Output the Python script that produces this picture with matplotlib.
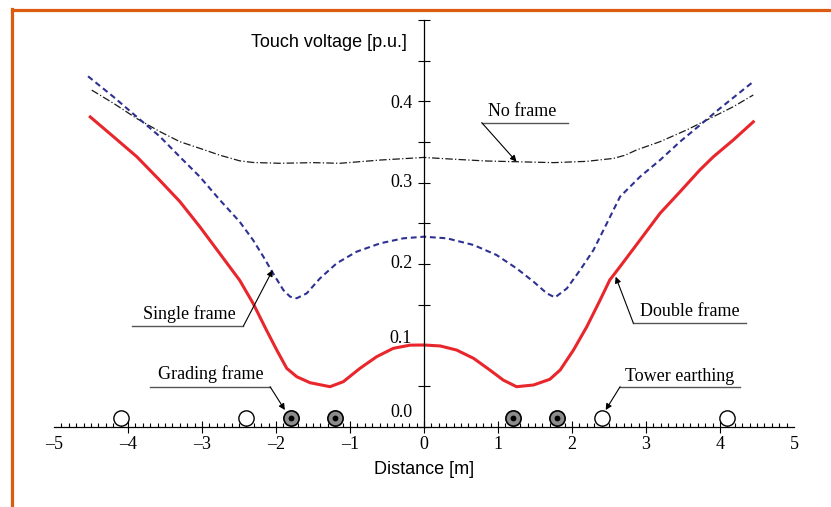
import numpy as np
import matplotlib
matplotlib.use("Agg")
from matplotlib import pyplot as plt
from matplotlib.lines import Line2D

# touch voltage profiles
x_double = [-4.51, -4.20, -3.88, -3.57, -3.30, -3.03, -2.76, -2.49, -2.31, -2.13, -1.99, -1.855,
            -1.72, -1.54, -1.27, -1.09, -0.865, -0.64, -0.415, -0.19, 0.0, 0.22, 0.44, 0.67, 0.89,
            1.07, 1.25, 1.48, 1.70, 1.84, 2.02, 2.20, 2.38, 2.51, 2.65, 2.92, 3.19, 3.46, 3.73,
            3.91, 4.18, 4.45]
v_double = [0.381, 0.357, 0.332, 0.303, 0.277, 0.246, 0.213, 0.180, 0.1518, 0.119, 0.0943, 0.0718,
            0.0615, 0.0541, 0.0492, 0.0554, 0.0718, 0.0861, 0.0964, 0.1003, 0.1005, 0.0993, 0.0943, 0.0841, 0.0697,
            0.0574, 0.0492, 0.0513, 0.0583, 0.0697, 0.0943, 0.123, 0.1558, 0.1804, 0.197, 0.2297, 0.2625, 0.289, 0.316,
            0.332, 0.3527, 0.375]

x_single = [-4.54, -4.20, -3.88, -3.57, -3.30, -3.03, -2.76, -2.49, -2.31, -2.17, -2.04, -1.90,
            -1.81, -1.72, -1.585, -1.405, -1.18, -0.91, -0.59, -0.28, 0.0, 0.31, 0.67, 0.98, 1.25,
            1.48, 1.66, 1.77, 1.93, 2.11, 2.29, 2.47, 2.65, 2.92, 3.19, 3.46, 3.73, 4.00, 4.45]
v_single = [0.431, 0.406, 0.381, 0.357, 0.332, 0.3075, 0.279, 0.252, 0.2296, 0.209, 0.1887, 0.168,
            0.160, 0.158, 0.164, 0.1825, 0.201, 0.2153, 0.2256, 0.2317, 0.2337, 0.2317, 0.2235, 0.2112, 0.1948,
            0.1784, 0.164, 0.159, 0.170, 0.1927, 0.2173, 0.250, 0.283, 0.3075, 0.328, 0.3506, 0.371, 0.3916, 0.4244]

x_none = [-4.49, -4.20, -3.88, -3.57, -3.30, -3.03, -2.76, -2.49, -2.31, -1.95, -1.50, -1.135,
          -0.59, 0.0, 0.40, 0.85, 1.21, 1.75, 2.20, 2.56, 2.72, 2.87, 3.19, 3.55, 3.86, 4.18, 4.45]
v_none = [0.414, 0.398, 0.379, 0.363, 0.3506, 0.3424, 0.334, 0.327, 0.325, 0.324, 0.3248, 0.324,
          0.328, 0.3312, 0.329, 0.3268, 0.326, 0.3248, 0.3264, 0.330, 0.334, 0.3403, 0.3506, 0.365, 0.379, 0.3936, 0.408]

grading_x = [-1.8, -1.2, 1.2, 1.8]
tower_x = [-4.1, -2.4, 2.4, 4.1]

xticks = [-5, -4, -3, -2, -1, 0, 1, 2, 3, 4, 5]
yticklabels = ["0.0", "0.1", "0.2", "0.3", "0.4"]

serif = "Liberation Serif"
sans = "Liberation Sans"

fig = plt.figure(figsize=(8.31, 5.07), dpi=100)
ax = fig.add_axes([54 / 831, 80.3 / 507, 740 / 831, 406.5 / 507])
ax.set_xlim(-5, 5)
ax.set_ylim(0, 0.5)
ax.patch.set_visible(False)

for s in ["top", "right"]:
    ax.spines[s].set_visible(False)
ax.spines["left"].set_position(("data", 0))
ax.spines["bottom"].set_position(("data", 0))
ax.spines["left"].set_linewidth(0.9)
ax.spines["bottom"].set_linewidth(0.9)

ax.set_xticks(xticks)
ax.set_xticklabels([("\u2013" + str(-t)) if t < 0 else str(t) for t in xticks],
                   fontfamily=serif, fontsize=13)
ax.set_xticks([i / 10 for i in range(-49, 50) if i % 10 != 0], minor=True)
ax.tick_params(axis="x", which="major", direction="inout", length=8, width=0.8, pad=2.5)
ax.tick_params(axis="x", which="minor", direction="in", length=3, width=0.8)
majors = ax.xaxis.get_major_ticks()
majors[0].tick1line.set_visible(False)
majors[-1].tick1line.set_visible(False)

ax.set_yticks(np.arange(0, 0.501, 0.05))
ax.tick_params(axis="y", which="major", direction="inout", length=8.5, width=0.8, labelleft=False)

# y labels drawn by hand, the two lowest sit a little higher in the original
ylab_pos = [0.018, 0.109, 0.201, 0.300, 0.398]
for lab, yp in zip(yticklabels, ylab_pos):
    ax.text(-0.16, yp, lab, ha="right", va="center", fontsize=13, fontfamily=serif)

ax.plot(x_none, v_none, color="#1a1a1a", lw=0.9, ls=(0, (6, 1.8, 1, 1.8)), clip_on=False)
ax.plot(x_single, v_single, color="#2E3192", lw=1.5, ls=(0, (2.8, 1.8)), clip_on=False)
ax.plot(x_double, v_double, color="#E8262C", lw=2.2, clip_on=False)

ax.plot(tower_x, [0.0113] * len(tower_x), "o", ms=11, mfc="white", mec="black", mew=1.0, clip_on=False)
ax.plot(grading_x, [0.0113] * len(grading_x), "o", ms=11, mfc="#8c8c8c", mec="black", mew=1.2, clip_on=False)
ax.plot(grading_x, [0.0113] * len(grading_x), "o", ms=4.2, mfc="black", mec="black", mew=0, clip_on=False)

# labels with underline + arrow
notes = [
    ("No frame", 1.33, 0.3826, 0.78, 1.95, 0.374, (0.78, 0.374), (1.25, 0.326)),
    ("Single frame", -3.17, 0.1325, -3.94, -2.44, 0.1239, (-2.44, 0.1239), (-2.045, 0.1927)),
    ("Double frame", 3.59, 0.1358, 2.83, 4.35, 0.1272, (2.83, 0.1272), (2.59, 0.1845)),
    ("Grading frame", -2.88, 0.059, -3.70, -2.08, 0.0492, (-2.08, 0.0492), (-1.88, 0.0205)),
    ("Tower earthing", 3.45, 0.0566, 2.65, 4.27, 0.0492, (2.65, 0.0492), (2.455, 0.0205)),
]
for txt, tx, ty, u0, u1, uy, p0, p1 in notes:
    ax.text(tx, ty, txt, ha="center", va="baseline", fontsize=13, fontfamily=serif)
    ax.plot([u0, u1], [uy, uy], color="#555555", lw=1.0, clip_on=False)
    ax.annotate("", xy=p1, xytext=p0,
                arrowprops=dict(arrowstyle="-|>", color="black", lw=0.8,
                                mutation_scale=9, shrinkA=0, shrinkB=0))

ax.text(-0.23, 0.472, "Touch voltage [p.u.]", ha="right", va="center", fontsize=13, fontfamily=sans)
ax.text(0, -0.0532, "Distance [m]", ha="center", va="center", fontsize=13, fontfamily=sans)

# orange frame around the picture
fig.add_artist(Line2D([11.5 / 831, 11.5 / 831], [0, 1 - 8.5 / 507], color="#DC5B0E", lw=2.3,
                      transform=fig.transFigure, solid_capstyle="projecting"))
fig.add_artist(Line2D([11.5 / 831, 1], [1 - 9.5 / 507, 1 - 9.5 / 507], color="#DC5B0E", lw=2.3,
                      transform=fig.transFigure, solid_capstyle="projecting"))

fig.savefig("out.png", dpi=100)
